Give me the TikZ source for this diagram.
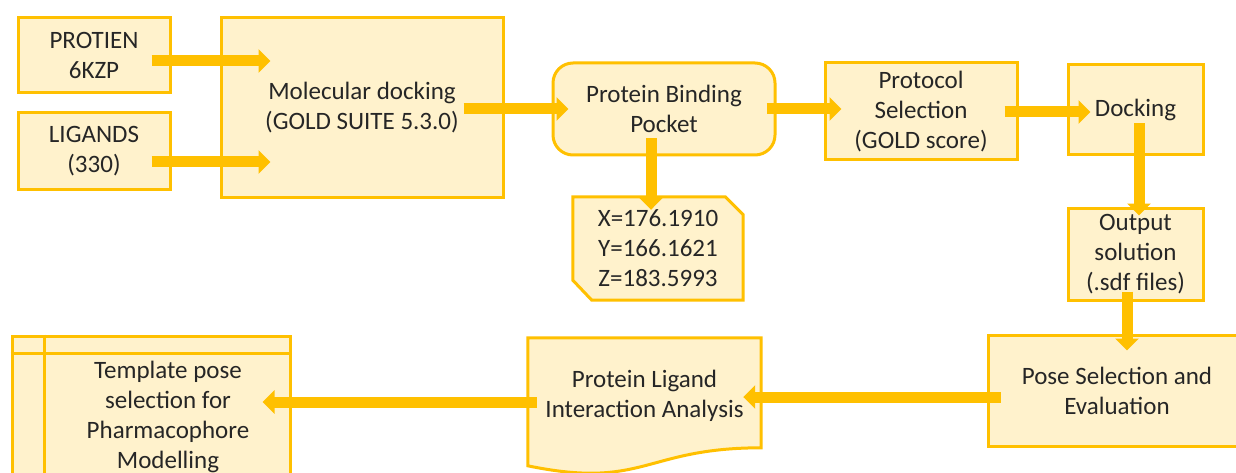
\documentclass[tikz,border=0pt]{standalone}
\usepackage{fontspec}
\setmainfont{Carlito}
\usetikzlibrary{arrows.meta,calc,backgrounds}
\definecolor{boxfill}{HTML}{FFF2CC}
\definecolor{boxline}{HTML}{FFC000}
\definecolor{ink}{HTML}{262626}
\begin{document}
\begin{tikzpicture}[x=1pt,y=-1pt,
  every node/.style={font=\fontsize{25}{30}\selectfont, text=ink},
  box/.style={draw=boxline, fill=boxfill, line width=3pt, inner sep=0pt, align=center},
  frame/.style={draw=boxline, fill=boxfill, line width=3pt},
  rule/.style={draw=boxline, line width=3pt},
  label/.style={inner sep=0pt, align=center},
  flow/.style={draw=boxline, line width=11pt, -{Triangle[width=23pt,length=12pt]}}]
\useasboundingbox (0,0) rectangle (1236,473);
\clip (0,0) rectangle (1236,473);

% process boxes
\node[box, minimum width=152pt, minimum height=75pt] (p) at (94,55.5) {PROTIEN\\6KZP};
\node[box, minimum width=152pt, minimum height=77pt] (l) at (94,151.5) {LIGANDS\\(330)};
\node[box, minimum width=282pt, minimum height=180pt] (mol) at (362,108) {Molecular docking\\(GOLD SUITE 5.3.0)};
\node[box, rounded corners=20pt, minimum width=222pt, minimum height=92pt] (pbp) at (664,109) {Protein Binding\\Pocket};
\node[box, minimum width=192pt, minimum height=97pt] (prot) at (921,111.5) {Protocol\\Selection\\(GOLD score)};
\node[box, minimum width=135pt, minimum height=90pt] (dock) at (1135.5,110) {Docking};
\node[box, minimum width=135pt, minimum height=92pt] (out) at (1135.5,254) {Output\\solution\\(.sdf files)};
\node[box, minimum width=258pt, minimum height=111pt] (pose) at (1117,390.5) {Pose Selection and\\Evaluation};

% grid coordinates card and document shape (outlines drawn behind the text)
\node[label, minimum width=170pt, minimum height=103pt] (xyz) at (658,248.5) {X=176.1910\\Y=166.1621\\Z=183.5993};
\node[label, minimum width=233pt, minimum height=116pt] (plia) at (644.5,396) {Protein Ligand\\Interaction Analysis};

\begin{scope}[on background layer]
  \fill[white] (0,0) rectangle (1236,473);
  \draw[frame] (xyz.north west) -- ($(xyz.north east)+(-18,0)$) -- ($(xyz.north east)+(0,18)$)
    -- (xyz.south east) -- ($(xyz.south west)+(19,0)$) -- ($(xyz.south west)+(0,-20)$) -- cycle;
  \draw[frame] (plia.north west) -- (plia.north east) -- ($(plia.north east)+(0,110)$)
    .. controls ($(plia.north)+(0,110)$) and ($(plia.north)+(0,152)$) .. ($(plia.north west)+(0,128)$) -- cycle;
\end{scope}

% internal storage box
\node[frame, inner sep=0pt, minimum width=278pt, minimum height=154pt] (tpl) at (151,413) {};
\draw[rule] ($(tpl.north west)+(0,19)$) -- ($(tpl.north east)+(0,19)$);
\draw[rule] ($(tpl.north west)+(34,0)$) -- ($(tpl.south west)+(34,0)$);
\node[label] (tpltext) at (168,417) {Template pose\\selection for\\Pharmacophore\\Modelling};

% block arrows
\draw[flow] ($(p.east)+(-20,5.5)$) -- ($(p.east -| mol.west)+(51,5.5)$);
\draw[flow] ($(l.east)+(-20,10.5)$) -- ($(l.east -| mol.west)+(51,10.5)$);
\draw[flow] ($(mol.east)+(-41,1)$) -- ($(mol.east -| pbp.west)+(17,1)$);
\draw[flow] ($(pbp.east)+(-10,0)$) -- ($(pbp.east -| prot.west)+(18,0)$);
\draw[flow] ($(prot.east)+(-14,0.5)$) -- ($(prot.east -| dock.west)+(24,0.5)$);
\draw[flow] ($(dock.south)+(3.5,-33)$) -- ($(dock.south |- out.north)+(3.5,9)$);
\draw[flow] ($(out.south)+(-8.5,-10)$) -- ($(out.south |- pose.north)+(-8.5,17)$);
\draw[flow] ($(pbp.south)+(-13,-18)$) -- ($(pbp.south |- xyz.north)+(-13,13)$);
\draw[flow] ($(pose.west)+(14,6.5)$) -- ($(pose.west -| plia.east)+(-18,6.5)$);
\draw[flow] ($(plia.west)+(9,6)$) -- ($(plia.west -| tpl.east)+(-29,6)$);
\end{tikzpicture}
\end{document}
